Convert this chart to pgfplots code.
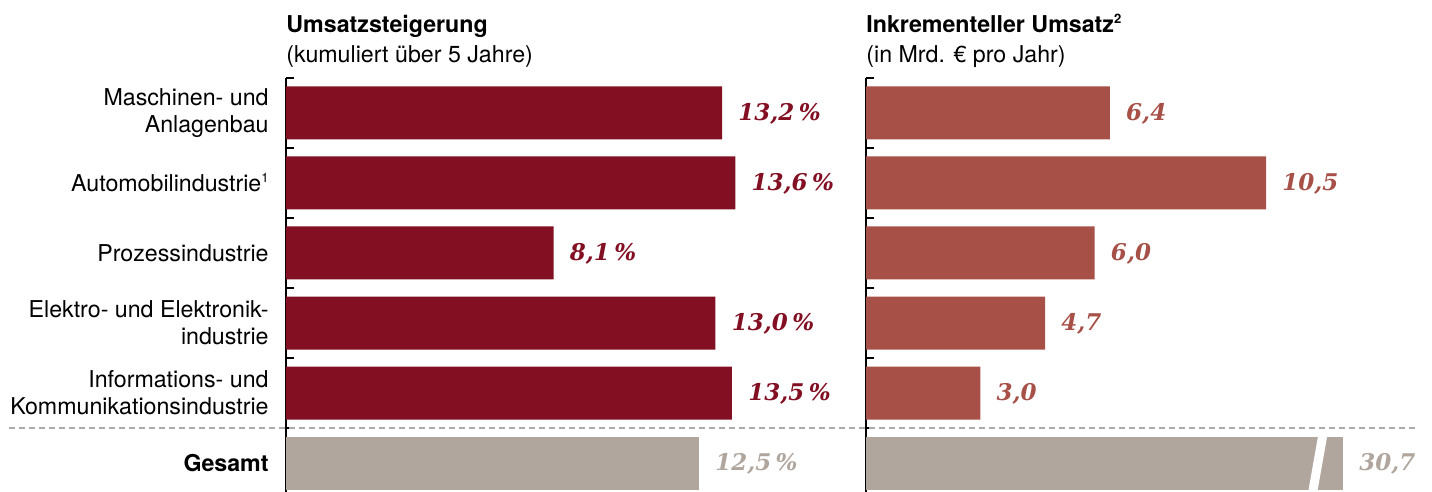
\documentclass[border=0pt]{standalone}
\usepackage{fontspec}
\setmainfont{TeX Gyre Heros}
\newfontfamily\valfont{DejaVu Serif}
\usepackage{pgfplots}
\pgfplotsset{compat=1.18}

\definecolor{darkred}{HTML}{820F22}
\definecolor{rustred}{HTML}{A65048}
\definecolor{taupe}{HTML}{B0A69E}
\definecolor{dashgray}{HTML}{ABABAB}

\newcommand{\sups}[1]{\raisebox{0.75ex}{\fontsize{6.5}{7}\selectfont #1}}

\pgfplotsset{
  panel/.style={
    scale only axis, height=207pt,
    ymin=-0.414, ymax=5.5, xmin=0,
    axis x line=none, axis y line*=left,
    y axis line style={-, line width=1pt, black},
    major tick length=0pt,
    extra y ticks={0.5,1.5,2.5,3.5,4.5,5.5}, extra y tick labels={},
    extra y tick style={major tick length=4pt, ytick align=inside, tick style={line width=1pt, black}},
    xbar, bar width=26.5pt, bar shift=0pt, clip=false,
    /pgf/number format/assume math mode=true,
    every node near coord/.append style={anchor=west, inner sep=0pt, xshift=8pt, yshift=-0.5pt,
      font=\valfont\bfseries\itshape\fontsize{11.5}{13}\selectfont},
  }
}

\begin{document}
\begin{tikzpicture}
\useasboundingbox (0,0) rectangle (716pt,246pt);

% left panel
\begin{axis}[panel, at={(143pt,0pt)}, anchor=south west,
  width=275pt, xmax=16.65,
  ytick={0,1,2,3,4,5},
  yticklabels={{\bfseries Gesamt},{Informations- und\\Kommunikationsindustrie},{Elektro- und Elektronik-\\industrie},{Prozessindustrie},{Automobilindustrie\sups{1}},{Maschinen- und\\Anlagenbau}},
  yticklabel style={font=\fontsize{11.6}{13.5}\selectfont, align=right, inner sep=0pt, xshift=-8.5pt},
  point meta=x,
  nodes near coords={\pgfmathprintnumber[fixed,fixed zerofill,precision=1,use comma,assume math mode=true]{\pgfplotspointmeta}\hspace{2.2pt}\%},
]
\addplot[fill=darkred, draw=none, every node near coord/.append style={text=darkred}]
  coordinates {(13.5,1) (13.0,2) (8.1,3) (13.6,4) (13.2,5)};
\addplot[fill=taupe, draw=none, every node near coord/.append style={text=taupe}]
  coordinates {(12.5,0)};
\end{axis}

% right panel
\begin{axis}[panel, at={(433pt,0pt)}, anchor=south west,
  width=283pt, xmax=14.856,
  ytick=\empty,
  point meta=explicit,
  nodes near coords={\pgfmathprintnumber[fixed,fixed zerofill,precision=1,use comma,assume math mode=true]{\pgfplotspointmeta}},
]
\addplot[fill=rustred, draw=none, every node near coord/.append style={text=rustred}]
  coordinates {(3.0,1) [3.0] (4.7,2) [4.7] (6.0,3) [6.0] (10.5,4) [10.5] (6.4,5) [6.4]};
\addplot[fill=taupe, draw=none, every node near coord/.append style={text=taupe}]
  coordinates {(12.52,0) [30.7]};
\fill[white] (axis cs:11.60,-0.43) -- (axis cs:11.84,-0.43) -- (axis cs:12.12,0.43) -- (axis cs:11.88,0.43) -- cycle;
\end{axis}

% titles
\node[anchor=base west, inner sep=0pt, font=\bfseries\fontsize{11.6}{13.5}\selectfont] at (143pt,229.5pt) {Umsatzsteigerung};
\node[anchor=base west, inner sep=0pt, font=\fontsize{11.6}{13.5}\selectfont] at (143pt,214.5pt) {(kumuliert über 5 Jahre)};
\node[anchor=base west, inner sep=0pt, font=\bfseries\fontsize{11.6}{13.5}\selectfont] at (433pt,229.5pt) {Inkrementeller Umsatz\sups{2}};
\node[anchor=base west, inner sep=0pt, font=\fontsize{11.6}{13.5}\selectfont] at (433pt,214.5pt) {(in Mrd. € pro Jahr)};

% separator
\draw[dashgray, line width=0.8pt, dash pattern=on 3pt off 2pt] (4.5pt,32pt) -- (707.5pt,32pt);
\end{tikzpicture}
\end{document}
